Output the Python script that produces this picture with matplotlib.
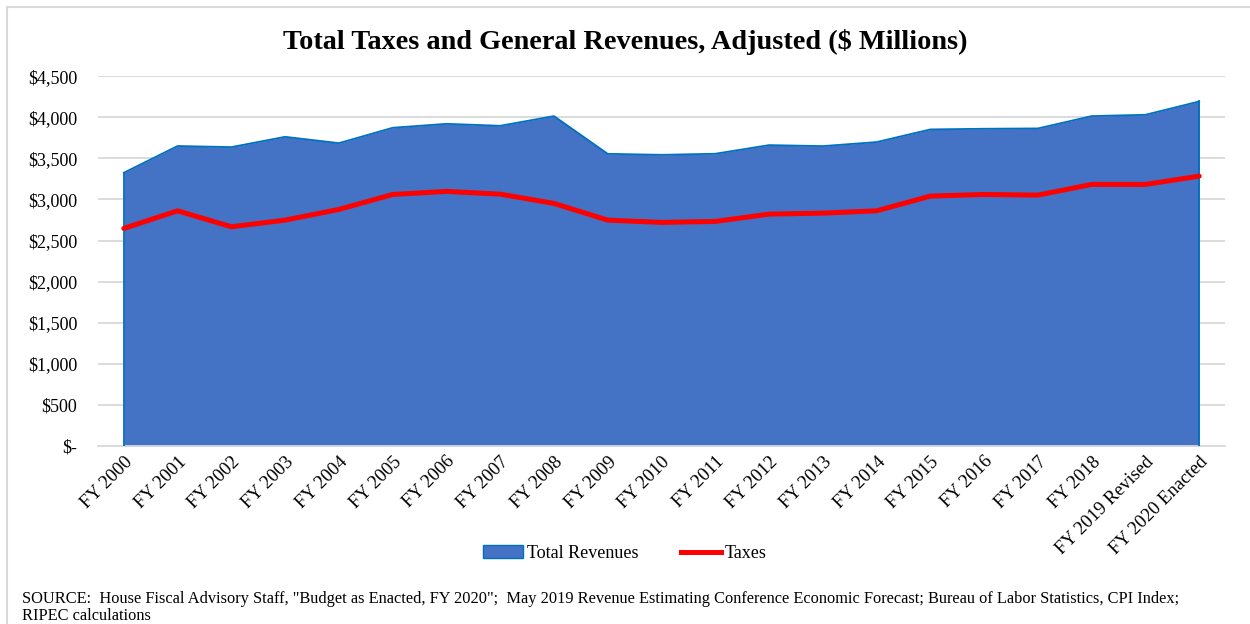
import matplotlib.pyplot as plt
import numpy as np
from matplotlib.patches import Rectangle
from matplotlib.lines import Line2D
from matplotlib.ticker import FuncFormatter

plt.rcParams['font.family'] = 'serif'
plt.rcParams['font.serif'] = ['Liberation Serif', 'DejaVu Serif']

# data ($ millions, adjusted)
years = ["FY 2000", "FY 2001", "FY 2002", "FY 2003", "FY 2004", "FY 2005", "FY 2006",
         "FY 2007", "FY 2008", "FY 2009", "FY 2010", "FY 2011", "FY 2012", "FY 2013",
         "FY 2014", "FY 2015", "FY 2016", "FY 2017", "FY 2018", "FY 2019 Revised",
         "FY 2020 Enacted"]
total_revenues = [3325, 3650, 3637, 3762, 3685, 3872, 3920, 3896, 4014, 3555, 3543,
                  3556, 3661, 3649, 3698, 3852, 3860, 3864, 4014, 4030, 4192]
taxes = [2648, 2862, 2668, 2749, 2879, 3061, 3098, 3065, 2952, 2749, 2721,
         2733, 2822, 2834, 2862, 3041, 3061, 3053, 3183, 3183, 3284]

fig = plt.figure(figsize=(12.5, 6.24), dpi=100)
ax = fig.add_axes([0.0784, 0.285, 0.9016, 0.593])

x = np.arange(len(years))
ax.fill_between(x, total_revenues, 0, color='#4472C4', linewidth=0, zorder=2)
ax.plot(x, total_revenues, color='#0070C0', linewidth=1.3, zorder=3)
ax.plot([x[0], x[0]], [0, total_revenues[0]], color='#0070C0', linewidth=1.3, zorder=3)
ax.plot([x[-1], x[-1]], [0, total_revenues[-1]], color='#0070C0', linewidth=1.3, zorder=3)
ax.plot(x, taxes, color='#FF0000', linewidth=3.6, zorder=4, solid_capstyle='round')

ax.set_xlim(-0.48, 20.48)
ax.set_ylim(0, 4500)
ax.set_yticks(np.arange(0, 4501, 500))
ax.yaxis.set_major_formatter(FuncFormatter(lambda v, p: "$-" if v == 0 else f"${v:,.0f}"))
ax.grid(axis='y', color='#D9D9D9', linewidth=1.3, zorder=0)
ax.set_axisbelow(True)
for s in ['top', 'right', 'left']:
    ax.spines[s].set_visible(False)
ax.spines['bottom'].set_color('#D9D9D9')
ax.spines['bottom'].set_linewidth(1.3)
ax.tick_params(axis='y', length=0, labelsize=13, pad=15)
ax.tick_params(axis='x', length=0, labelsize=13.5, pad=5)
ax.set_xticks(x)
ax.set_xticklabels(years, rotation=45, ha='right', va='top', rotation_mode='anchor')

fig.text(0.5, 0.932, "Total Taxes and General Revenues, Adjusted ($ Millions)",
         ha='center', va='center', fontsize=20.3, fontweight='bold')

handles = [Rectangle((0, 0), 1, 1, facecolor='#4472C4', edgecolor='#0070C0', linewidth=1),
           Line2D([0], [0], color='#FF0000', linewidth=3.6)]
fig.legend(handles, ["Total Revenues", "Taxes"], loc='center', bbox_to_anchor=(0.5, 0.113),
           ncol=2, frameon=False, fontsize=13, handlelength=2.2, handletextpad=0.2,
           columnspacing=2.4)

fig.text(0.0176, 0.053, "SOURCE:  House Fiscal Advisory Staff, \"Budget as Enacted, FY 2020\";  "
         "May 2019 Revenue Estimating Conference Economic Forecast; Bureau of Labor Statistics, CPI Index;\n"
         "RIPEC calculations", ha='left', va='top', fontsize=11.8, linespacing=1.1)

# chart border (left and top edges visible in the crop)
fig.patches.append(Rectangle((7 / 1250, -0.1), 1.2, 1 - 7 / 624 + 0.1, transform=fig.transFigure,
                             fill=False, edgecolor='#D9D9D9', linewidth=1.5))

plt.savefig("out.png", dpi=100)
